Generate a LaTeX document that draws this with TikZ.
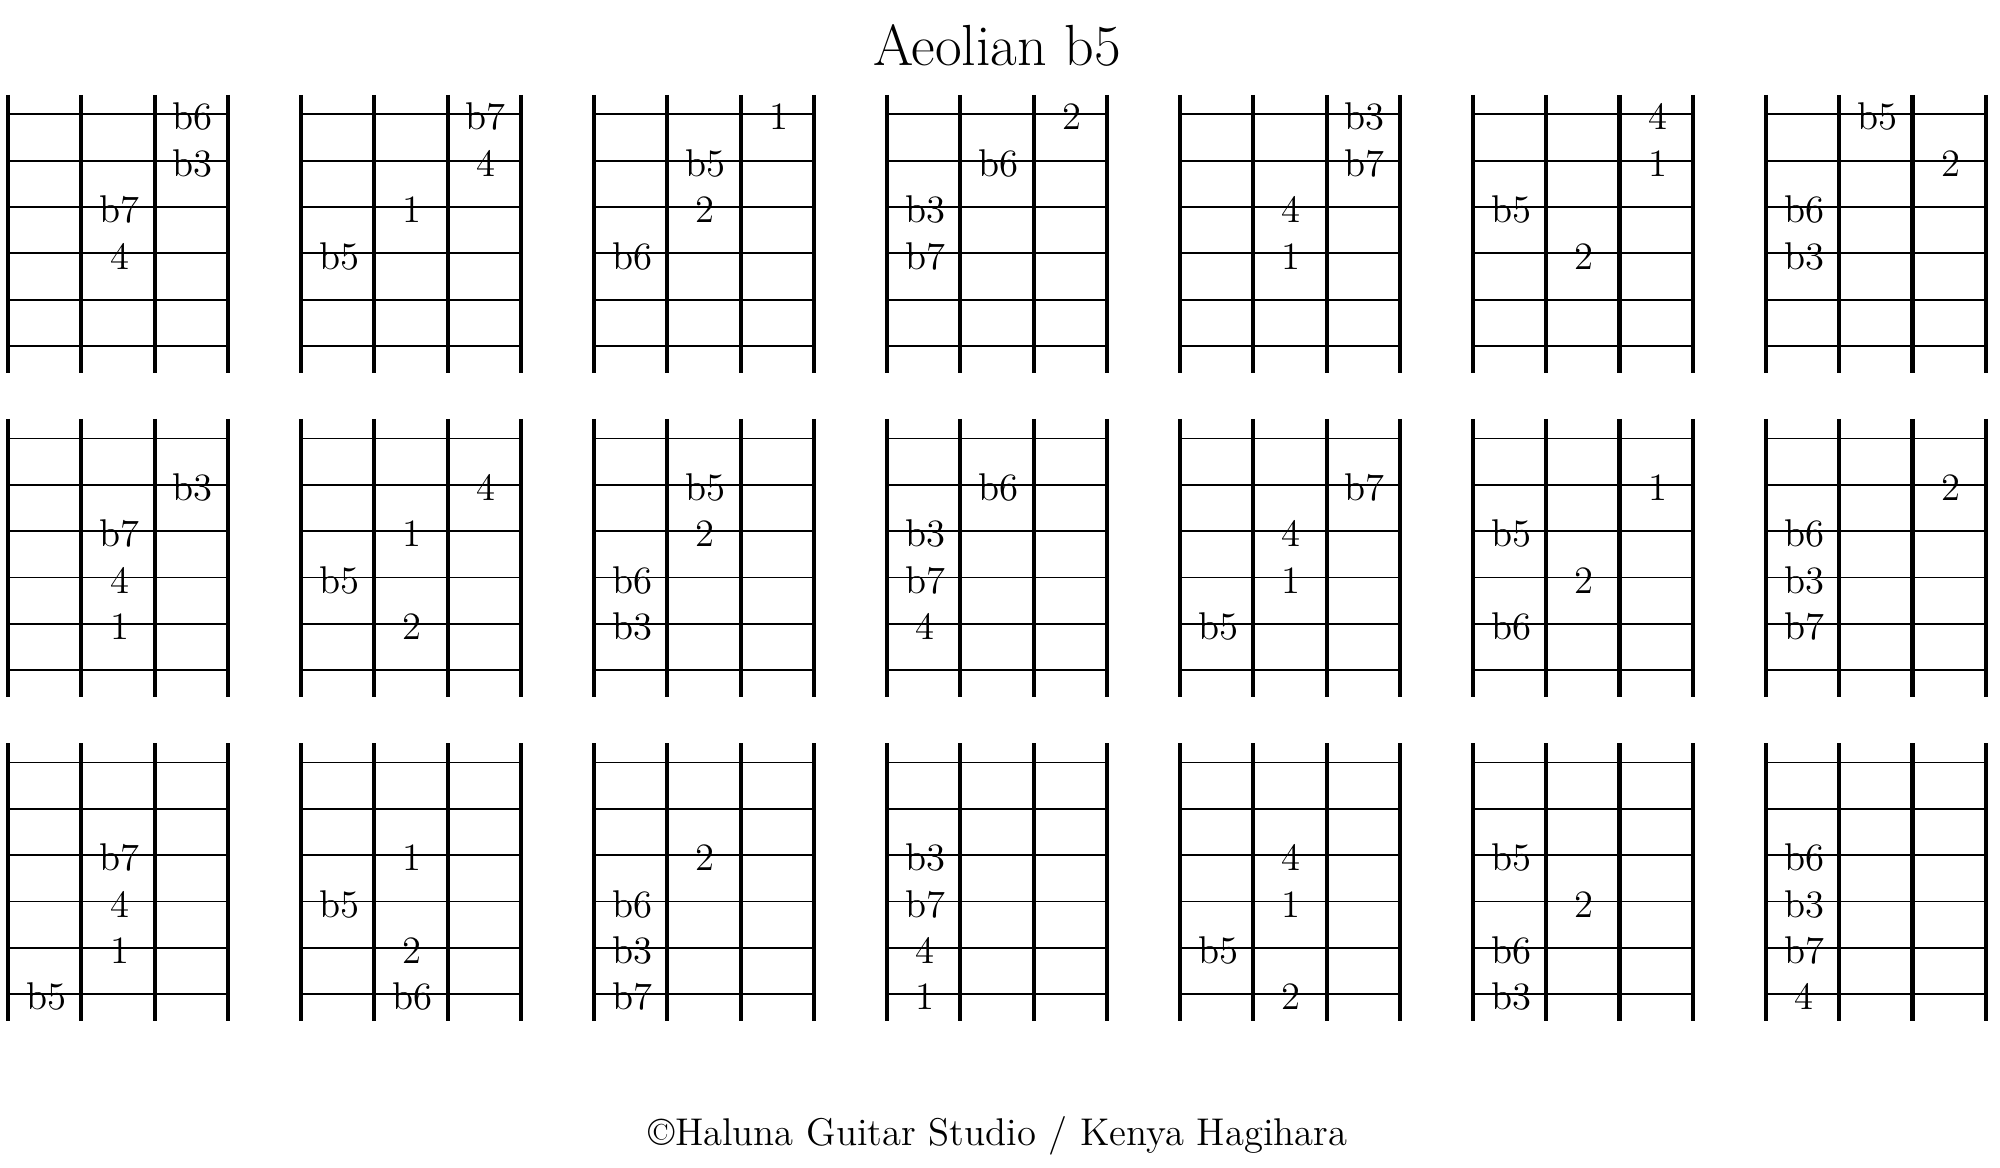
\documentclass[tikz,border=0pt]{standalone}
\usepackage{tikz}
\usetikzlibrary{positioning}

\begin{document}
\begin{tikzpicture}[x=0.1mm,y=-0.1mm,
                    fret/.style={line width=1.15pt},
                    gstring/.style={line width=0.5pt},
                    degree/.style={anchor=base,inner sep=0pt,font=\fontsize{11}{13}\selectfont}]

  \useasboundingbox (0,0) rectangle (2000,1168);

  \node[anchor=base,font=\fontsize{16.5}{20}\selectfont] (title) at (997,66) {Aeolian b5};

  % empty necks, 3 rows of 7
  \foreach \r in {0,1,2} {
    \foreach \d in {0,...,6} {
      \pgfmathsetmacro{\bx}{8+292.97*\d}
      \pgfmathsetmacro{\by}{114.3+324.1*\r}
      \foreach \s in {0,...,5}
        \draw[gstring] (\bx,\by+46.34*\s) -- ++(220,0);
      \foreach \f in {0,...,3}
        \draw[fret] (\bx+73.33*\f,\by-19.5) -- ++(0,278.2);
    }
  }

  % degrees: row/box/{string/fret/text}
  \foreach \r/\d/\notes in {
    0/0/{1/3/b6,2/3/b3,3/2/b7,4/2/4},
    0/1/{1/3/b7,2/3/4,3/2/1,4/1/b5},
    0/2/{1/3/1,2/2/b5,3/2/2,4/1/b6},
    0/3/{1/3/2,2/2/b6,3/1/b3,4/1/b7},
    0/4/{1/3/b3,2/3/b7,3/2/4,4/2/1},
    0/5/{1/3/4,2/3/1,3/1/b5,4/2/2},
    0/6/{1/2/b5,2/3/2,3/1/b6,4/1/b3},
    1/0/{2/3/b3,3/2/b7,4/2/4,5/2/1},
    1/1/{2/3/4,3/2/1,4/1/b5,5/2/2},
    1/2/{2/2/b5,3/2/2,4/1/b6,5/1/b3},
    1/3/{2/2/b6,3/1/b3,4/1/b7,5/1/4},
    1/4/{2/3/b7,3/2/4,4/2/1,5/1/b5},
    1/5/{2/3/1,3/1/b5,4/2/2,5/1/b6},
    1/6/{2/3/2,3/1/b6,4/1/b3,5/1/b7},
    2/0/{3/2/b7,4/2/4,5/2/1,6/1/b5},
    2/1/{3/2/1,4/1/b5,5/2/2,6/2/b6},
    2/2/{3/2/2,4/1/b6,5/1/b3,6/1/b7},
    2/3/{3/1/b3,4/1/b7,5/1/4,6/1/1},
    2/4/{3/2/4,4/2/1,5/1/b5,6/2/2},
    2/5/{3/1/b5,4/2/2,5/1/b6,6/1/b3},
    2/6/{3/1/b6,4/1/b3,5/1/b7,6/1/4}} {
    \foreach \s/\c/\t in \notes
      \node[degree] (p\r\d\s) at ({8+292.97*\d+73.33*(\c-0.5)+1.5},{114.3+324.1*\r+46.34*(\s-1)+15.7}) {\t};
  }

  \node[anchor=base,font=\fontsize{11}{13}\selectfont] (credit) at (998,1145)
    {\textcopyright Haluna Guitar Studio / Kenya Hagihara};
\end{tikzpicture}
\end{document}
